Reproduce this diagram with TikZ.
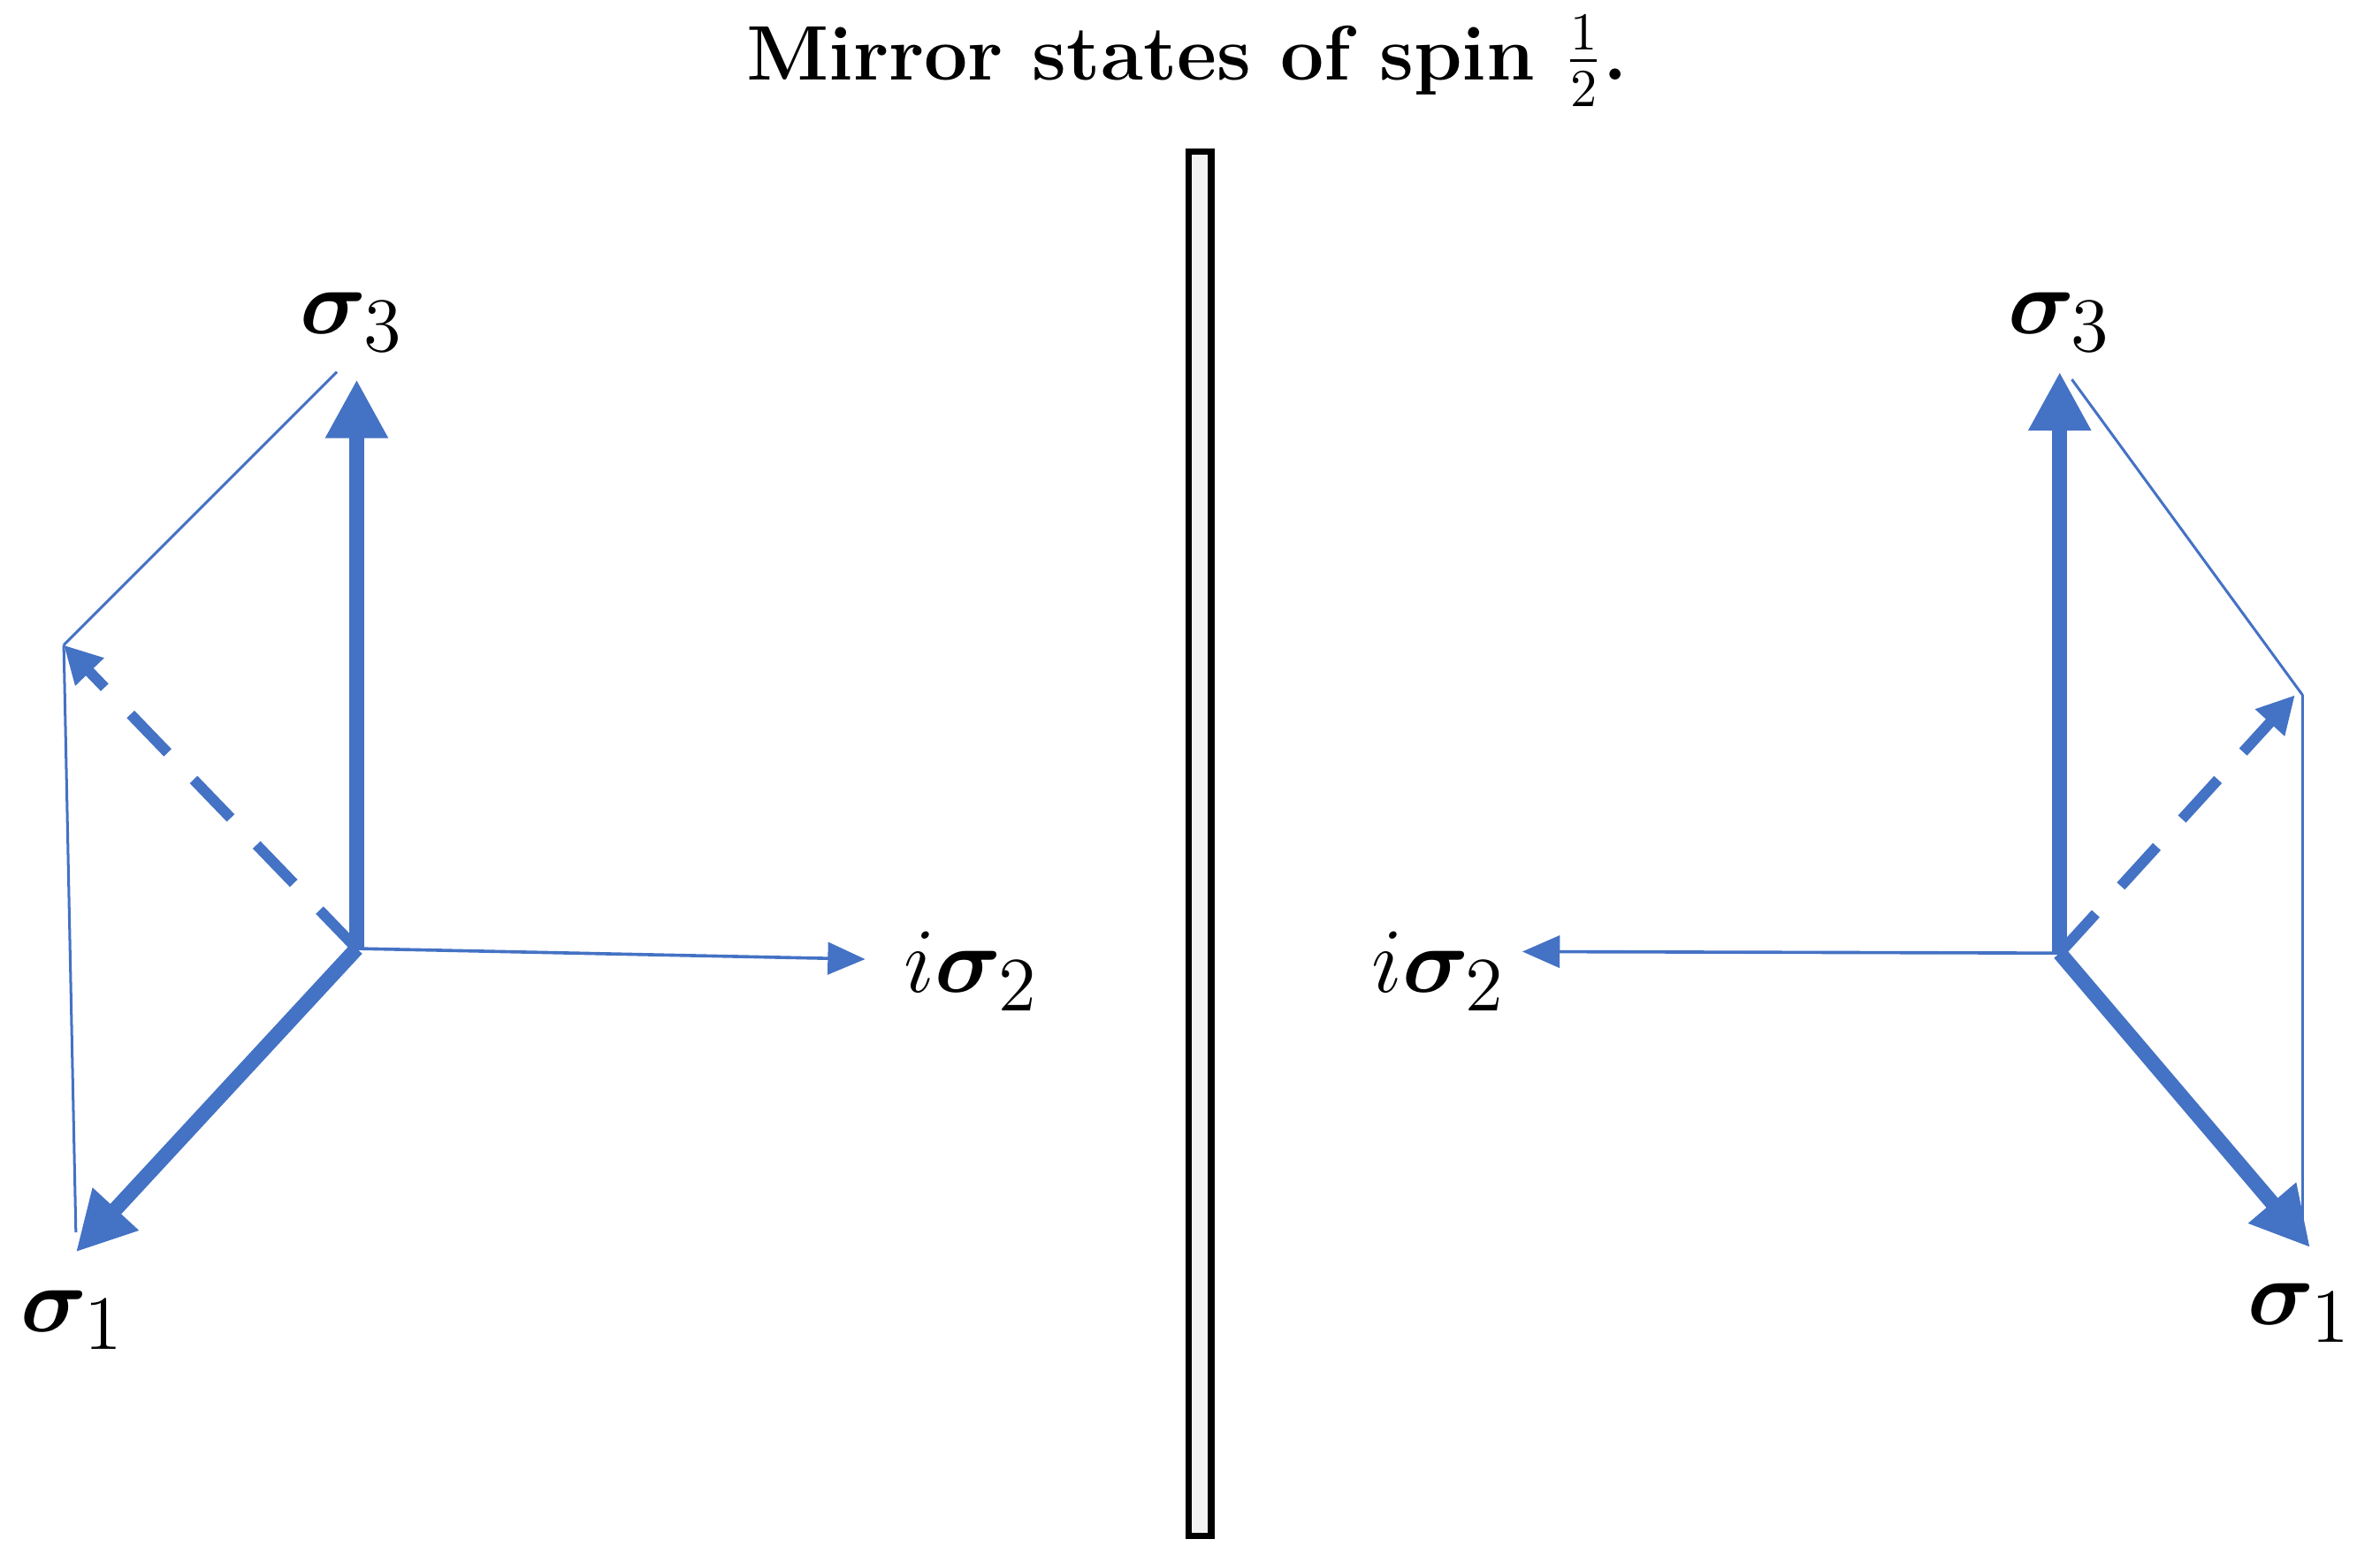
\documentclass[tikz,border=0pt]{standalone}
\usepackage{amsmath,bm}
\usetikzlibrary{arrows.meta}
\definecolor{spinblue}{RGB}{68,114,196}
\begin{document}
\begin{tikzpicture}[x={(0.01cm,0)},y={(0,-0.01cm)},
axis/.style={spinblue,line width=2.8pt,-{Triangle[length=11pt,width=11pt]}},
thinaxis/.style={spinblue,line width=0.6pt,-{Triangle[length=7pt,width=6pt]}},
proj/.style={spinblue,line width=2pt,dashed,dash pattern=on 10pt off 7pt,-{Triangle[length=7pt,width=7pt]}},
edge/.style={spinblue,line width=0.5pt},
lab/.style={font=\fontsize{19}{23}\selectfont},
]
\useasboundingbox (0,0) rectangle (1568,1029);
\node (title) at (782,40) {\fontsize{14.5}{18}\selectfont\bfseries Mirror states of spin $\frac{1}{2}$.};
\draw[black,line width=1.2pt,fill=black!5] (783,100) rectangle (798,1012);

% left
\coordinate (lo) at (235,625);
\coordinate (l3) at (235,250);
\coordinate (l1) at (50,825);
\coordinate (l2) at (570,632);
\coordinate (lp) at (42,425);
\draw[edge] (lp) -- (222,245);
\draw[edge] (lp) -- (50,812);
\draw[axis] (lo) -- (l3);
\draw[axis] (lo) -- (l1);
\draw[thinaxis] (lo) -- (l2);
\draw[proj] (lo) -- (lp);
\node[lab] (ls3) at (232,212) {$\bm{\sigma}_3$};
\node[lab] (ls1) at (48,870) {$\bm{\sigma}_1$};
\node[lab] (ls2) at (640,640) {$i\bm{\sigma}_2$};

% right
\coordinate (ro) at (1357,628);
\coordinate (r3) at (1357,245);
\coordinate (r1) at (1522,822);
\coordinate (r2) at (1003,627);
\coordinate (rp) at (1512,458);
\draw[edge] (1517,458) -- (1365,250);
\draw[edge] (1517,458) -- (1517,810);
\draw[axis] (ro) -- (r3);
\draw[axis] (ro) -- (r1);
\draw[thinaxis] (ro) -- (r2);
\draw[proj] (ro) -- (rp);
\node[lab] (rs3) at (1357,212) {$\bm{\sigma}_3$};
\node[lab] (rs1) at (1515,865) {$\bm{\sigma}_1$};
\node[lab] (rs2) at (948,640) {$i\bm{\sigma}_2$};
\end{tikzpicture}
\end{document}
